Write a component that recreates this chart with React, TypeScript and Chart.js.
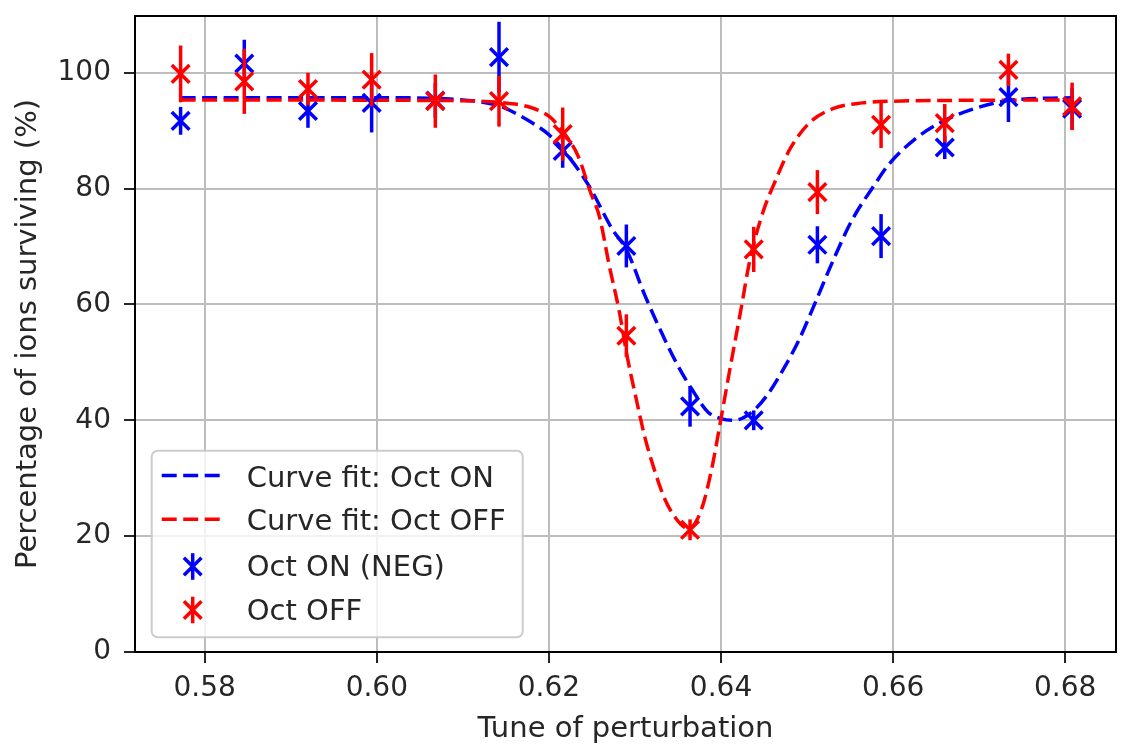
import React, { useEffect, useRef } from 'react';
import { Chart, registerables } from 'chart.js';

Chart.register(...registerables);

// ---- data ----
const tunes = [0.5772, 0.5846, 0.592, 0.5994, 0.6068, 0.6142, 0.6216, 0.629, 0.6364, 0.6438, 0.6512, 0.6586, 0.666, 0.6734, 0.6808];

const onValues = [91.7, 101.6, 93.4, 94.8, 95.2, 102.7, 86.5, 70.1, 42.4, 40.0, 70.3, 71.8, 87.1, 95.8, 93.8];
const onErrors = [2.4, 4.1, 2.9, 5.1, 3.0, 6.1, 2.9, 3.7, 3.5, 1.7, 3.2, 3.8, 2.0, 4.3, 3.6];

const offValues = [99.8, 98.5, 97.2, 98.8, 95.1, 95.1, 89.4, 54.6, 21.1, 69.5, 79.4, 91.0, 91.3, 100.5, 94.2];
const offErrors = [4.9, 5.6, 2.8, 4.6, 4.6, 4.4, 4.6, 3.7, 1.8, 3.9, 3.8, 4.0, 3.3, 2.8, 4.1];

const fitOnX = [0.5772, 0.6, 0.608, 0.612, 0.6142, 0.616, 0.6179, 0.62, 0.6216, 0.6246, 0.6274, 0.629, 0.6312, 0.6331, 0.635, 0.6366, 0.6385, 0.64, 0.6415, 0.6434, 0.6453, 0.6472, 0.6491, 0.651, 0.653, 0.6552, 0.6579, 0.6594, 0.6625, 0.6655, 0.669, 0.6734, 0.6808];
const fitOnY = [95.7, 95.7, 95.5, 95.0, 94.3, 93.1, 91.5, 89.3, 86.8, 80.6, 72.9, 69.5, 61.4, 55.1, 49.4, 45.4, 41.4, 40.3, 40.0, 41.2, 44.2, 48.7, 54.0, 60.5, 67.5, 74.5, 80.8, 84.0, 88.5, 91.4, 93.6, 95.2, 95.7];

const fitOffX = [0.5772, 0.608, 0.6142, 0.6179, 0.62, 0.6216, 0.6234, 0.6248, 0.6259, 0.627, 0.6282, 0.6291, 0.6301, 0.6312, 0.6324, 0.6335, 0.635, 0.6362, 0.6377, 0.6389, 0.64, 0.6411, 0.6423, 0.6434, 0.645, 0.6461, 0.648, 0.6503, 0.653, 0.6564, 0.66, 0.6808];
const fitOffY = [95.3, 95.2, 94.9, 94.0, 92.5, 89.9, 85.6, 79.5, 75.0, 66.8, 58.6, 51.0, 44.0, 36.8, 30.8, 26.3, 22.6, 21.3, 24.5, 31.5, 40.3, 49.4, 59.0, 68.0, 76.5, 80.6, 86.8, 91.4, 93.8, 94.8, 95.1, 95.3];

const xTicks = [0.58, 0.6, 0.62, 0.64, 0.66, 0.68];
const yTicks = [0, 20, 40, 60, 80, 100];

const labelFitOn = 'Curve fit: Oct ON';
const labelFitOff = 'Curve fit: Oct OFF';
const labelOn = 'Oct ON (NEG)';
const labelOff = 'Oct OFF';
const xTitle = 'Tune of perturbation';
const yTitle = 'Percentage of ions surviving (%)';

const BLUE = '#0000ff';
const RED = '#ff0000';
const TEXT = '#262626';
const FONT = 'DejaVu Sans';

const errorBarPlugin = {
  id: 'errorBars',
  beforeDatasetDraw(chart: any, args: any) {
    const ds = chart.data.datasets[args.index];
    if (!ds.errors) return;
    const { ctx } = chart;
    const xs = chart.scales.x;
    const ys = chart.scales.y;
    ctx.save();
    ctx.strokeStyle = ds.borderColor;
    ctx.lineWidth = 3.5;
    ds.data.forEach((p: any, i: number) => {
      const e = ds.errors[i];
      const px = xs.getPixelForValue(p.x);
      ctx.beginPath();
      ctx.moveTo(px, ys.getPixelForValue(p.y - e));
      ctx.lineTo(px, ys.getPixelForValue(p.y + e));
      ctx.stroke();
    });
    ctx.restore();
  },
};

function drawX(ctx: CanvasRenderingContext2D, x: number, y: number, color: string) {
  const o = 8.8;
  ctx.strokeStyle = color;
  ctx.lineWidth = 3.5;
  ctx.beginPath();
  ctx.moveTo(x - o, y - o);
  ctx.lineTo(x + o, y + o);
  ctx.moveTo(x + o, y - o);
  ctx.lineTo(x - o, y + o);
  ctx.stroke();
}

const framePlugin = {
  id: 'frameLegend',
  afterDatasetsDraw(chart: any) {
    const { ctx, chartArea: a } = chart;
    ctx.save();
    ctx.strokeStyle = '#000';
    ctx.lineWidth = 2;
    ctx.beginPath();
    ctx.moveTo(a.left, a.top);
    ctx.lineTo(a.right, a.top);
    ctx.lineTo(a.right, a.bottom);
    ctx.stroke();
    ctx.restore();
  },
  afterDraw(chart: any) {
    const { ctx } = chart;
    const ds = chart.data.datasets;
    ctx.save();
    ctx.beginPath();
    (ctx as any).roundRect(151.7, 450.7, 371, 186.6, 6);
    ctx.fillStyle = 'rgba(255,255,255,0.8)';
    ctx.fill();
    ctx.strokeStyle = '#cccccc';
    ctx.lineWidth = 2;
    ctx.stroke();

    const rows = [
      { ds: ds[3], cy: 475.5, base: 486.5, kind: 'line' },
      { ds: ds[2], cy: 519.3, base: 530, kind: 'line' },
      { ds: ds[1], cy: 566.5, base: 575.8, kind: 'err' },
      { ds: ds[0], cy: 610, base: 620, kind: 'err' },
    ];
    rows.forEach((r) => {
      const color = r.ds.borderColor;
      if (r.kind === 'line') {
        ctx.strokeStyle = color;
        ctx.lineWidth = 3.5;
        ctx.setLineDash([15, 6.5]);
        ctx.beginPath();
        ctx.moveTo(161.7, r.cy);
        ctx.lineTo(221.7, r.cy);
        ctx.stroke();
        ctx.setLineDash([]);
      } else {
        ctx.strokeStyle = color;
        ctx.lineWidth = 3.5;
        ctx.beginPath();
        ctx.moveTo(192.7, r.cy - 13.3);
        ctx.lineTo(192.7, r.cy + 13.3);
        ctx.stroke();
        drawX(ctx, 192.7, r.cy, color);
      }
      ctx.fillStyle = TEXT;
      ctx.font = `29px "${FONT}"`;
      ctx.textBaseline = 'alphabetic';
      ctx.textAlign = 'left';
      ctx.fillText(r.ds.label, 246.7, r.base);
    });
    ctx.restore();
  },
};

export default function App() {
  const ref = useRef<HTMLCanvasElement | null>(null);

  useEffect(() => {
    if (!ref.current) return;
    const chart = new Chart(ref.current, {
      type: 'scatter',
      data: {
        datasets: [
          {
            type: 'scatter',
            label: labelOff,
            data: tunes.map((x, i) => ({ x, y: offValues[i] })),
            errors: offErrors,
            borderColor: RED,
            backgroundColor: RED,
            pointStyle: 'crossRot',
            pointRadius: 12.5,
            pointBorderWidth: 3.5,
            order: 1,
          } as any,
          {
            type: 'scatter',
            label: labelOn,
            data: tunes.map((x, i) => ({ x, y: onValues[i] })),
            errors: onErrors,
            borderColor: BLUE,
            backgroundColor: BLUE,
            pointStyle: 'crossRot',
            pointRadius: 12.5,
            pointBorderWidth: 3.5,
            order: 2,
          } as any,
          {
            type: 'line',
            label: labelFitOff,
            data: fitOffX.map((x, i) => ({ x, y: fitOffY[i] })),
            borderColor: RED,
            backgroundColor: RED,
            borderWidth: 3.5,
            borderDash: [15, 6.5],
            pointRadius: 0,
            fill: false,
            cubicInterpolationMode: 'monotone',
            order: 3,
          } as any,
          {
            type: 'line',
            label: labelFitOn,
            data: fitOnX.map((x, i) => ({ x, y: fitOnY[i] })),
            borderColor: BLUE,
            backgroundColor: BLUE,
            borderWidth: 3.5,
            borderDash: [15, 6.5],
            pointRadius: 0,
            fill: false,
            cubicInterpolationMode: 'monotone',
            order: 4,
          } as any,
        ],
      },
      options: {
        animation: false,
        responsive: false,
        events: [],
        layout: { padding: { top: 7, right: 2, left: 0, bottom: 0 } },
        plugins: { legend: { display: false }, tooltip: { enabled: false } },
        scales: {
          x: {
            type: 'linear',
            min: 0.5719,
            max: 0.6859,
            afterBuildTicks: (s: any) => {
              s.ticks = xTicks.map((v) => ({ value: v }));
            },
            afterFit: (s: any) => {
              s.height = 96;
              s.paddingLeft = 0;
              s.paddingRight = 0;
            },
            ticks: {
              callback: (v: any) => Number(v).toFixed(2),
              font: { family: FONT, size: 28 },
              color: TEXT,
              padding: 9,
              maxRotation: 0,
              autoSkip: false,
            },
            grid: { color: '#bdbdbd', lineWidth: 2, tickLength: 11, tickColor: TEXT, tickWidth: 2 },
            border: { color: '#000', width: 2 },
            title: {
              display: true,
              text: xTitle,
              font: { family: FONT, size: 29 },
              color: TEXT,
              padding: { top: 0, bottom: 1 },
            },
          },
          y: {
            type: 'linear',
            min: 0,
            max: 109.8,
            afterBuildTicks: (s: any) => {
              s.ticks = yTicks.map((v) => ({ value: v }));
            },
            afterFit: (s: any) => {
              s.width = 135;
              s.paddingTop = 0;
              s.paddingBottom = 0;
            },
            ticks: {
              callback: (v: any) => String(v),
              font: { family: FONT, size: 28 },
              color: TEXT,
              padding: 13,
              autoSkip: false,
            },
            grid: { color: '#bdbdbd', lineWidth: 2, tickLength: 11, tickColor: TEXT, tickWidth: 2 },
            border: { color: '#000', width: 2 },
            title: {
              display: true,
              text: yTitle,
              font: { family: FONT, size: 29 },
              color: TEXT,
              padding: { top: 11, bottom: 0 },
            },
          },
        },
      } as any,
      plugins: [errorBarPlugin, framePlugin],
    });
    return () => chart.destroy();
  }, []);

  return (
    <div style={{ position: 'absolute', left: 0, top: 0, width: 1132, height: 748, background: '#fff' }}>
      <canvas ref={ref} width={1132} height={748} style={{ display: 'block' }} />
    </div>
  );
}
